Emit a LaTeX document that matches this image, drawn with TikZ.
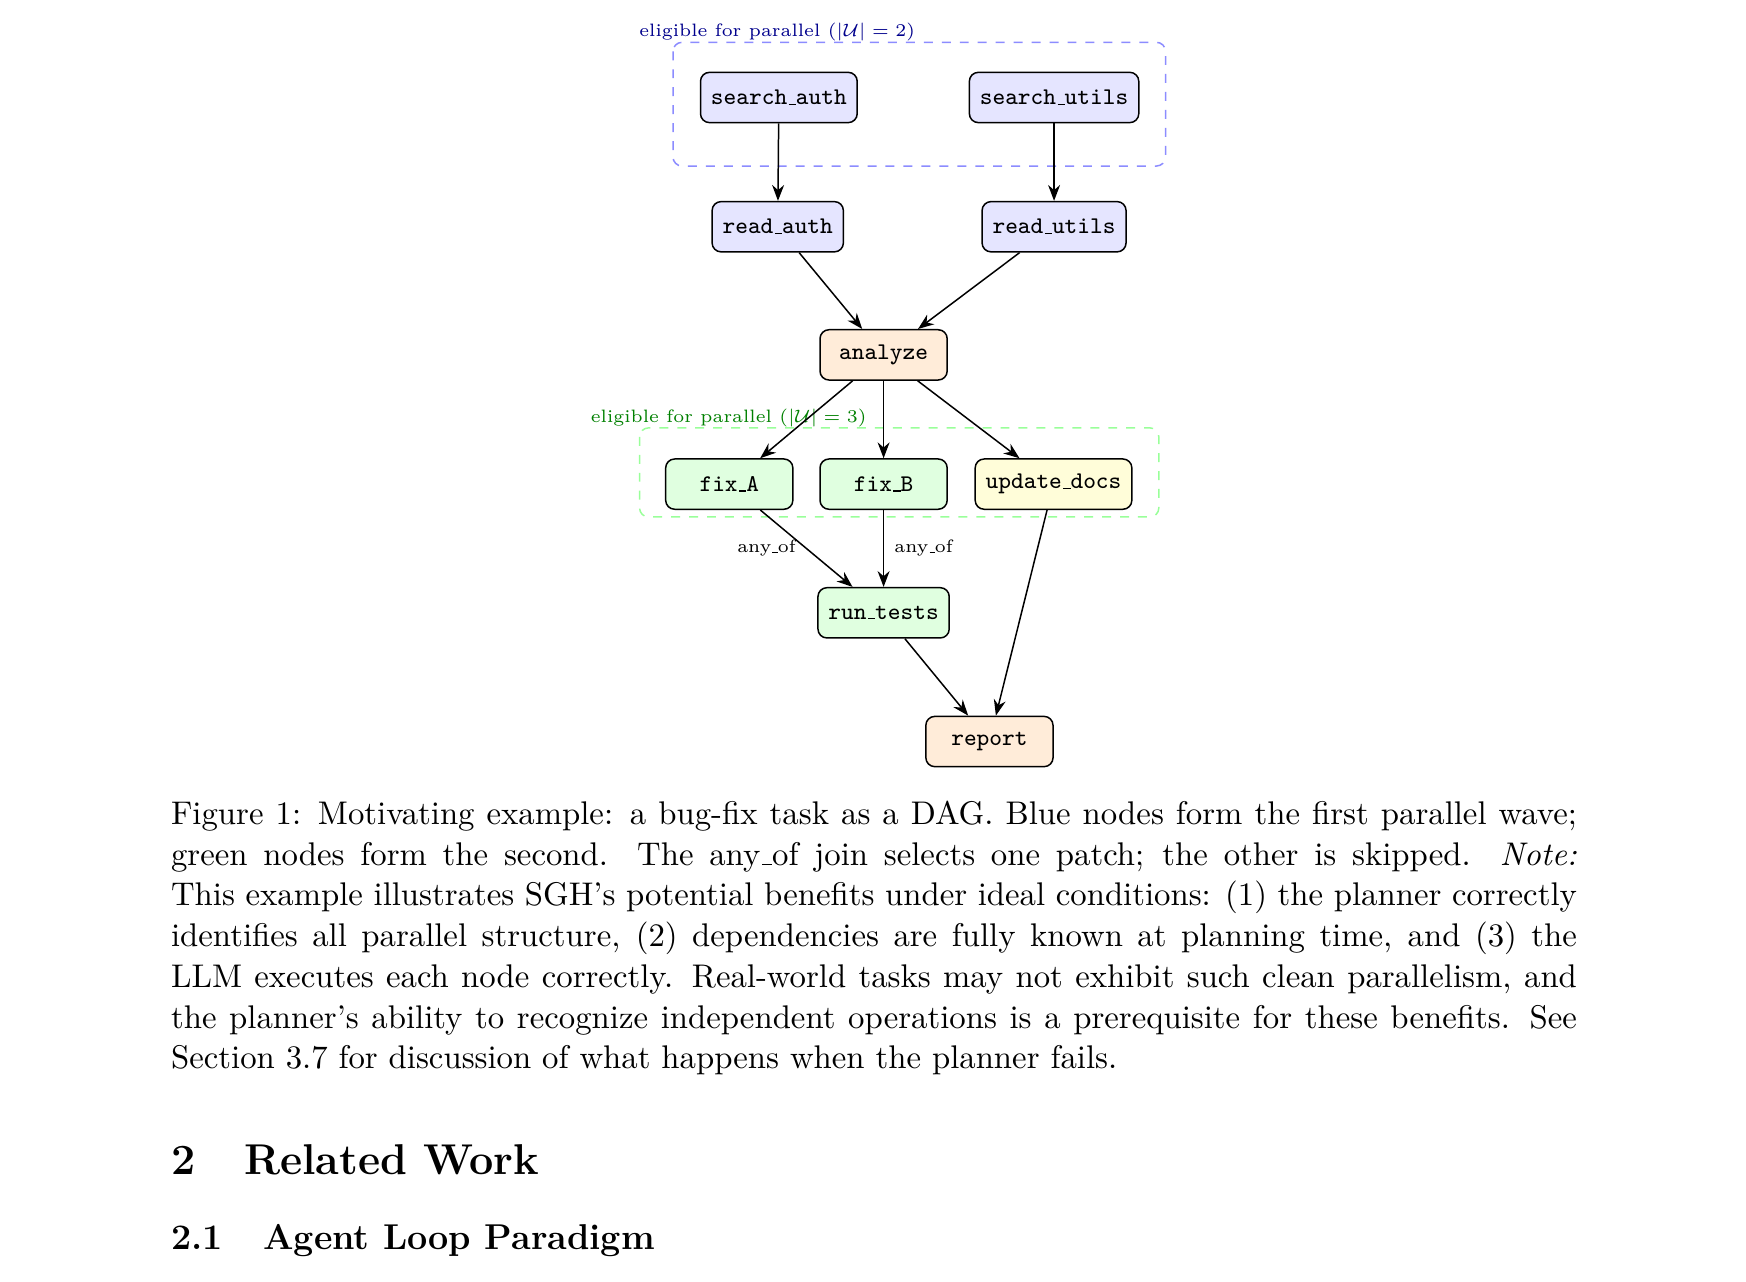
\documentclass[tikz,border=0pt]{standalone}
\usetikzlibrary{arrows.meta}
\newcommand\uscore{\leavevmode\kern.06em\vbox{\hrule width.3em}}
\begin{document}
\begin{tikzpicture}[x=0.3723pt,y=-0.3723pt,
  task/.style={draw=black, line width=0.5pt, rounded corners=3pt,
    minimum width=42.5pt, minimum height=16.8pt, inner xsep=3.5pt,
    font=\fontsize{8}{9.5}\selectfont\ttfamily},
  blu/.style={task, fill=blue!10},
  org/.style={task, fill=orange!15},
  grn/.style={task, fill=green!12},
  ylw/.style={task, fill=yellow!15},
  arr/.style={-{Stealth[length=5.3pt,width=4pt]}, line width=0.5pt},
  groupbox/.style={dashed, line width=0.5pt, rounded corners=3pt},
  glabel/.style={font=\fontsize{6}{7}\selectfont, inner sep=0pt, anchor=base},
  lbl/.style={font=\fontsize{6}{7}\selectfont}
]
\useasboundingbox (0,0) rectangle (1567,1150);

% group boxes
\draw[groupbox, draw=blue!45] (604,38) rectangle (1046,149);
\draw[groupbox, draw=green!40] (574,384) rectangle (1040,464);
\node[glabel, text=blue!55!black] (lblue) at (697.5,33) {eligible for parallel ($|\mathcal{U}| = 2$)};
\node[glabel, text=green!50!black] (lgreen) at (654,379) {eligible for parallel ($|\mathcal{U}| = 3$)};

% nodes
\node[blu] (sa) at (699,87.5) {search\uscore auth};
\node[blu] (su) at (946,87.5) {search\uscore utils};
\node[blu] (ra) at (698,203.5) {read\uscore auth};
\node[blu] (ru) at (946,203.5) {read\uscore utils};
\node[org] (an) at (793,318.5) {analyze};
\node[grn] (fa) at (654.5,434.5) {fix\uscore A};
\node[grn] (fb) at (793,434.5) {fix\uscore B};
\node[ylw] (ud) at (945.5,434.5) {update\uscore docs};
\node[grn] (rt) at (793,550) {run\uscore tests};
\node[org] (rp) at (888,665.5) {report};

% edges
\draw[arr] (sa) -- (ra);
\draw[arr] (su) -- (ru);
\draw[arr] (ra) -- (an);
\draw[arr] (ru) -- (an);
\draw[arr] (an) -- (fa);
\draw[arr] (an) -- (fb);
\draw[arr] (an) -- (ud);
\draw[arr] (fa) -- node[lbl, left] {any\uscore of} (rt);
\draw[arr] (fb) -- node[lbl, right] {any\uscore of} (rt);
\draw[arr] (rt) -- (rp);
\draw[arr] (ud) -- (rp);

% caption
\node[inner sep=0pt, anchor=base west] (cap) at (153,740) {\parbox[t]{469.75pt}{\fontsize{10.95}{13.6}\selectfont
Figure 1: Motivating example: a bug-fix task as a DAG. Blue nodes form the first parallel wave;\linebreak
green nodes form the second.  The any\uscore of join selects one patch; the other is skipped.  \emph{Note:}\linebreak
This example illustrates SGH's potential benefits under ideal conditions: (1) the planner correctly\linebreak
identifies all parallel structure, (2) dependencies are fully known at planning time, and (3) the\linebreak
LLM executes each node correctly. Real-world tasks may not exhibit such clean parallelism, and\linebreak
the planner's ability to recognize independent operations is a prerequisite for these benefits. See\linebreak
Section 3.7 for discussion of what happens when the planner fails.}};

% headings
\node[inner sep=0pt, anchor=base west] (sec) at (153,1054) {\fontsize{14.4}{18}\selectfont\bfseries 2\hspace{16.3pt}Related Work};
\node[inner sep=0pt, anchor=base west] (subsec) at (153,1121) {\fontsize{12}{14.5}\selectfont\bfseries 2.1\hspace{13.6pt}Agent Loop Paradigm};
\end{tikzpicture}
\end{document}
